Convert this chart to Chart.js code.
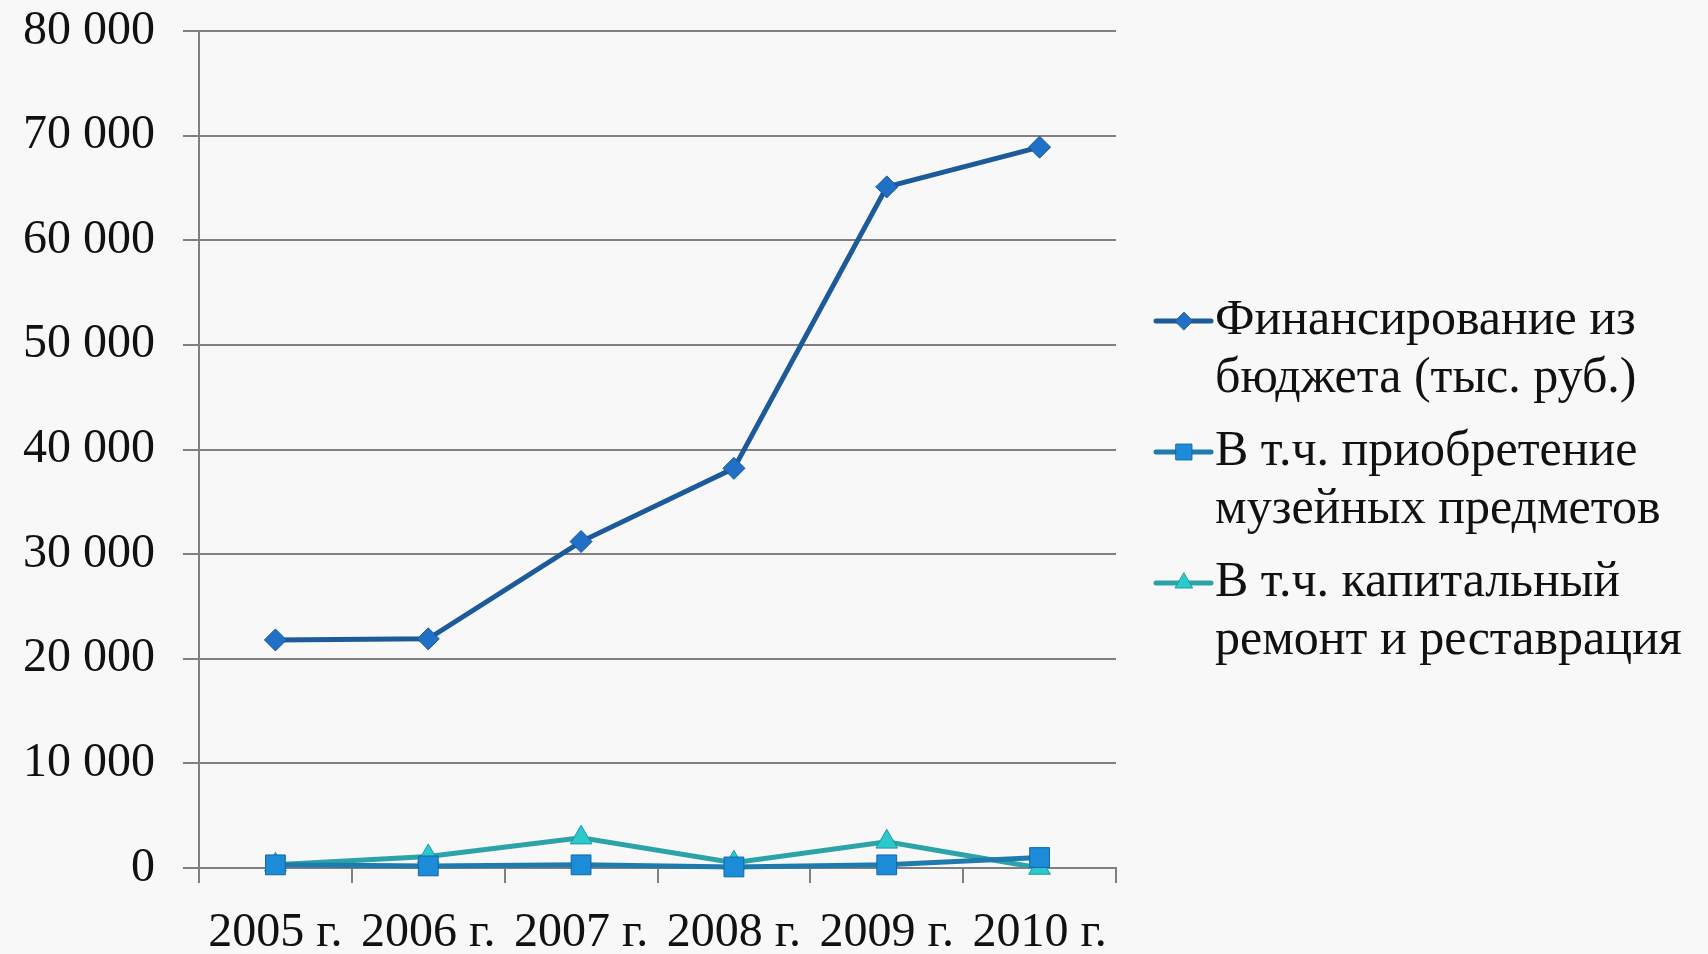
<!DOCTYPE html>
<html>
<head>
<meta charset="utf-8">
<script src="https://cdn.jsdelivr.net/npm/chart.js@4/dist/chart.umd.min.js"></script>
<style>
  html, body { margin: 0; padding: 0; background: #f8f8f8; }
  #wrap { width: 1708px; height: 954px; position: relative; }
</style>
</head>
<body>
<div id="wrap"><canvas id="c"></canvas></div>
<script>
const categories = ['2005 г.', '2006 г.', '2007 г.', '2008 г.', '2009 г.', '2010 г.'];
const financing = [21800, 21900, 31200, 38200, 65100, 68900];
const acquisitions = [300, 200, 300, 100, 300, 1000];
const repairs = [300, 1100, 2900, 500, 2500, 0];
const seriesNames = [
  ['Финансирование из', 'бюджета (тыс. руб.)'],
  ['В т.ч. приобретение', 'музейных предметов'],
  ['В т.ч. капитальный', 'ремонт и реставрация']
];
const yTicks = [0, 10000, 20000, 30000, 40000, 50000, 60000, 70000, 80000];

const FONT = '"Liberation Serif", "DejaVu Serif", serif';

const styles = [
  { line: '#1c5a9a', fill: '#1f70c6', border: '#1a5590', pointStyle: 'rectRot', radius: 11 },
  { line: '#1f7aad', fill: '#1c8cd8', border: '#1466a8', pointStyle: 'rect', radius: 14 },
  { line: '#2ba3a8', fill: '#2cc9cc', border: '#1f9aa0', pointStyle: 'triangle', radius: 12.5 }
];

const legendPlugin = {
  id: 'sideLegend',
  afterDraw(chart) {
    const ctx = chart.ctx;
    ctx.save();
    const x0 = 1156, x1 = 1211, xm = 1184, tx = 1215;
    const firstY = 321, itemGap = 131, lineGap = 58;
    chart.data.datasets.forEach((ds, i) => {
      const y = firstY + i * itemGap;
      ctx.strokeStyle = ds.borderColor;
      ctx.lineWidth = 5;
      ctx.lineCap = 'round';
      ctx.beginPath();
      ctx.moveTo(x0, y);
      ctx.lineTo(x1, y);
      ctx.stroke();
      ctx.fillStyle = ds.pointBackgroundColor;
      ctx.strokeStyle = ds.pointBorderColor;
      ctx.lineWidth = 1;
      Chart.helpers.drawPoint(ctx, {
        pointStyle: ds.pointStyle,
        radius: ds.pointRadius * 0.8,
        rotation: 0,
        borderWidth: 1
      }, xm, y);
      ctx.fillStyle = '#111';
      ctx.font = '50px ' + FONT;
      ctx.textBaseline = 'middle';
      ctx.textAlign = 'left';
      seriesNames[i].forEach((t, k) => ctx.fillText(t, tx, y + k * lineGap));
    });
    ctx.restore();
  }
};

const bgPlugin = {
  id: 'bg',
  beforeDraw(chart) {
    const ctx = chart.ctx;
    ctx.save();
    ctx.fillStyle = '#f8f8f8';
    ctx.fillRect(0, 0, chart.width, chart.height);
    ctx.restore();
  }
};

const datasets = [financing, acquisitions, repairs].map((d, i) => ({
  label: seriesNames[i].join(' '),
  data: d,
  borderColor: styles[i].line,
  backgroundColor: styles[i].fill,
  pointBackgroundColor: styles[i].fill,
  pointBorderColor: styles[i].border,
  pointBorderWidth: 1,
  pointStyle: styles[i].pointStyle,
  pointRadius: styles[i].radius,
  borderWidth: 5,
  tension: 0,
  fill: false,
  clip: false
}));

new Chart(document.getElementById('c'), {
  type: 'line',
  data: { labels: categories, datasets },
  plugins: [bgPlugin, legendPlugin],
  options: {
    responsive: true,
    maintainAspectRatio: false,
    animation: false,
    layout: { padding: { top: 31, right: 592, left: 0, bottom: 0 } },
    plugins: { legend: { display: false }, tooltip: { enabled: false } },
    scales: {
      x: {
        offset: true,
        grid: { offset: true, drawOnChartArea: false, drawTicks: true, tickLength: 15, color: '#808080', lineWidth: 2 },
        border: { color: '#808080', width: 2 },
        ticks: { color: '#111', font: { family: FONT, size: 48 }, padding: 22, maxRotation: 0, autoSkip: false },
        afterFit(s) { s.height = 954 - 868; s.paddingLeft = 0; s.paddingRight = 0; }
      },
      y: {
        min: 0, max: 80000,
        afterBuildTicks(s) { s.ticks = yTicks.map(v => ({ value: v })); },
        grid: { color: '#808080', lineWidth: 2, tickLength: 16 },
        border: { color: '#808080', width: 2 },
        ticks: {
          color: '#111', font: { family: FONT, size: 48 }, padding: 28,
          callback: v => String(v).replace(/\B(?=(\d{3})+(?!\d))/g, ' ')
        },
        afterFit(s) { s.width = 199; s.paddingTop = 0; s.paddingBottom = 0; }
      }
    }
  }
});
</script>
</body>
</html>
